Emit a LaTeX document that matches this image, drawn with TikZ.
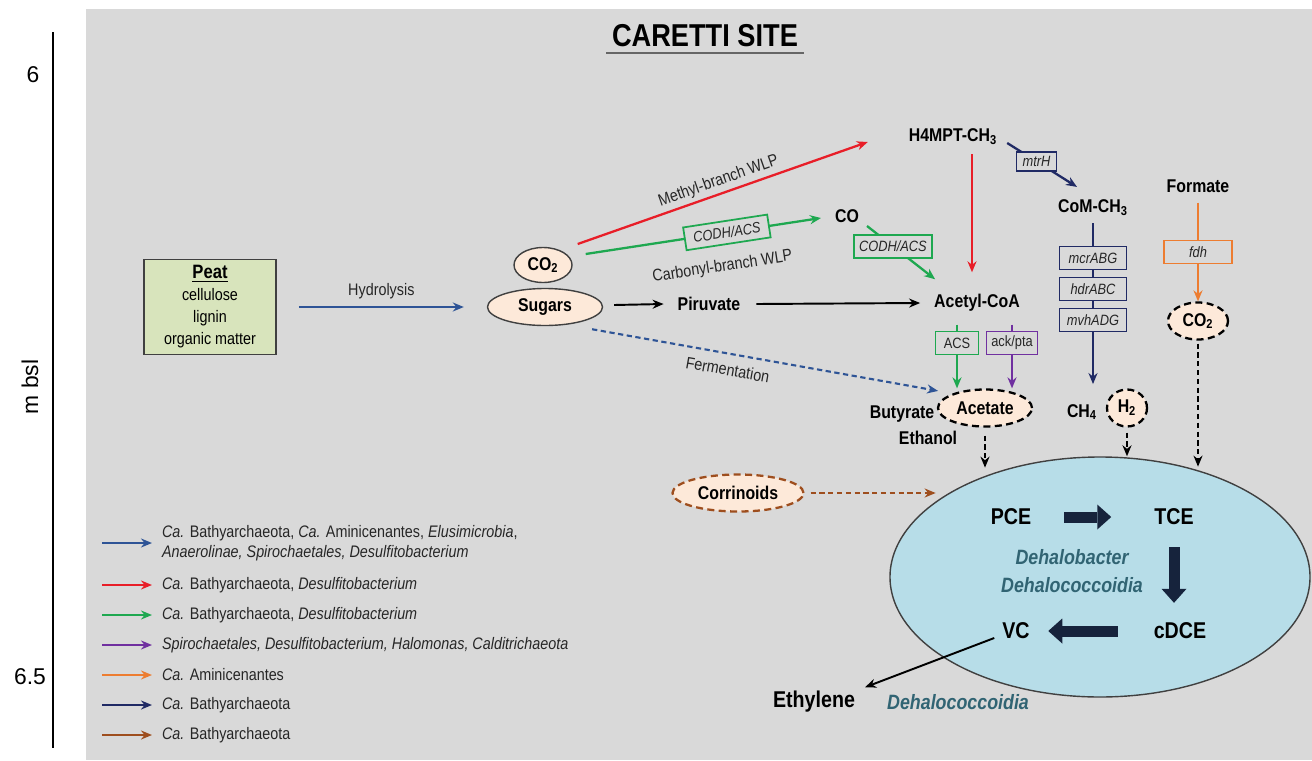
\documentclass[tikz,border=0pt]{standalone}
\usepackage{fontspec}
\setmainfont{Liberation Sans}[FakeStretch=0.86]
\newfontfamily\axisfont{Liberation Sans}
\usetikzlibrary{arrows.meta,shapes.geometric,calc}

\definecolor{panelgray}{RGB}{217,217,217}
\definecolor{peatgreen}{RGB}{216,228,188}
\definecolor{peach}{RGB}{253,233,217}
\definecolor{iceblue}{RGB}{183,221,232}
\definecolor{hydroblue}{RGB}{46,84,150}
\definecolor{wlpred}{RGB}{232,30,40}
\definecolor{wlpgreen}{RGB}{30,168,80}
\definecolor{ackpurple}{RGB}{112,48,160}
\definecolor{fdhorange}{RGB}{237,125,49}
\definecolor{mcrnavy}{RGB}{32,42,100}
\definecolor{corrbrown}{RGB}{158,78,30}
\definecolor{tealtext}{RGB}{49,100,115}
\definecolor{blockblue}{RGB}{22,35,60}
\definecolor{rimgray}{RGB}{64,64,64}
\definecolor{labelgray}{RGB}{38,38,38}

\begin{document}
\begin{tikzpicture}[x=0.2mm,y=-0.2mm,>={Stealth[length=2.2mm,width=1.8mm]},
  lbl/.style={font=\fontsize{10.5}{12}\selectfont\bfseries,inner sep=1pt},
  biglbl/.style={font=\fontsize{13}{15}\selectfont\bfseries,inner sep=1pt},
  pathlbl/.style={font=\fontsize{9.5}{11}\selectfont,text=labelgray,inner sep=2pt},
  enzbox/.style={draw=#1,line width=1pt,fill=panelgray,text=labelgray,font=\fontsize{8.5}{10}\selectfont\itshape,inner sep=1pt,minimum height=4.6mm},
  pool/.style={ellipse,draw=rimgray,line width=0.8pt,fill=peach,inner sep=0pt,minimum height=7.4mm,font=\fontsize{10.5}{12}\selectfont\bfseries},
  dashpool/.style={pool,draw=#1,line width=1.3pt,dash pattern=on 4pt off 2.5pt},
  legtxt/.style={anchor=west,align=left,font=\fontsize{9.5}{11.5}\selectfont,text=labelgray,inner sep=1pt},
  dashflow/.style={->,line width=1pt,dash pattern=on 3pt off 2pt},
  blockarrow/.style={draw=blockblue,line width=2.2mm,-{Triangle[length=2.8mm,width=5mm,line width=0pt]}},
  microbe/.style={font=\fontsize{11.8}{14}\selectfont\bfseries\itshape,text=tealtext,inner sep=1pt}]

\useasboundingbox (0,0) rectangle (1312,760);
\fill [panelgray] (86,9) rectangle (1312,760);

% depth axis
\draw [line width=1.2pt] (53,32) -- (53,748);
\node [font=\axisfont\fontsize{13}{15}\selectfont] (top) at (33,75) {6};
\node [font=\axisfont\fontsize{13}{15}\selectfont] (bottom) at (30,677) {6.5};
\node [font=\axisfont\fontsize{13}{15}\selectfont,rotate=90] (depth) at (30,387) {m bsl};

% title
\node [font=\fontsize{18}{20}\selectfont\bfseries,inner sep=2pt] (title) at (705,36) {CARETTI SITE};
\draw [rimgray!80,line width=1.6pt] ($(title.south west)+(-2,2)$) -- ($(title.south east)+(2,2)$);

% substrates
\node [draw=rimgray,line width=1pt,fill=peatgreen,minimum width=26.4mm,minimum height=19mm,align=center,
       font=\fontsize{9.5}{12.5}\selectfont] (peat) at (210,307)
      {{\fontsize{11}{12.5}\selectfont\bfseries\underline{Peat}}\\cellulose\\lignin\\organic matter};
\node [pool,minimum width=11.6mm,minimum height=7mm] (co2a) at (543,265) {CO\textsubscript{2}};
\node [pool,minimum width=23mm] (sugars) at (545,307) {Sugars};
\node [lbl] (piruvate) at (709,304) {Piruvate};
\node [lbl] (acetyl) at (977,303) {Acetyl-CoA};
\node [lbl] (h4mpt) at (953,137) {H4MPT-CH\textsubscript{3}};
\node [lbl] (co) at (847,216) {CO};
\node [lbl] (com) at (1093,208) {CoM-CH\textsubscript{3}};
\node [lbl] (formate) at (1198,186) {Formate};
\node [dashpool=black,minimum width=12mm] (co2b) at (1198,321) {CO\textsubscript{2}};
\node [dashpool=black,minimum width=18.8mm] (acetate) at (985,408) {Acetate};
\node [lbl] (butyrate) at (902,414) {Butyrate};
\node [lbl] (ethanol) at (928,438) {Ethanol};
\node [lbl] (ch4) at (1082,412) {CH\textsubscript{4}};
\node [dashpool=black,minimum width=8mm] (h2) at (1127,408) {H\textsubscript{2}};
\node [dashpool=corrbrown,minimum width=26.2mm] (corr) at (738,493) {Corrinoids};

% dechlorination
\node [ellipse,draw=rimgray,line width=0.8pt,fill=iceblue,minimum width=84mm,minimum height=48mm] (dechl) at (1100,577) {};
\node [biglbl] (pce) at (1011,517) {PCE};
\node [biglbl] (tce) at (1174,517) {TCE};
\node [biglbl] (cdce) at (1180,631) {cDCE};
\node [biglbl] (vc) at (1016,631) {VC};
\node [microbe] (dhb) at (1072,557) {Dehalobacter};
\node [microbe] (dhc) at (1072,585) {Dehalococcoidia};
\node [biglbl] (ethylene) at (814,702) {Ethylene};
\node [microbe] (dhcb) at (958,702) {Dehalococcoidia};
\draw [blockarrow] ($(pce.east)+(31,0)$) -- ($(tce.west)+(-41,0)$);
\draw [blockarrow] ($(tce.south)+(0,20)$) -- ($(cdce.north)+(-6,-18)$);
\draw [blockarrow] ($(cdce.west)+(-34,0)$) -- ($(vc.west)+(48,0)$);
\draw [->,line width=1.1pt] ($(vc.west)+(-6,7)$) -- ($(ethylene.north east)+(8,-2)$);

% flows
\draw [->,hydroblue,line width=1.2pt] ($(peat.east)+(22,0)$) -- node [pathlbl,above=2pt] {Hydrolysis} ($(sugars.west)+(-23,0)$);
\draw [->,line width=1.1pt] ($(sugars.east)+(11,-2)$) -- ($(piruvate.west)+(-12,0)$);
\draw [->,line width=1.1pt] ($(piruvate.east)+(14,0)$) -- ($(acetyl.west)+(-12,0)$);
\draw [->,wlpred,line width=1.3pt] ($(co2a.east)+(5,-21)$) -- node [pathlbl,sloped,above] {Methyl-branch WLP} ($(h4mpt.west)+(-39,5)$);
\draw [->,wlpgreen,line width=1.3pt] ($(co2a.east)+(13,-11)$) --
      node [pos=.6,sloped,enzbox=wlpgreen,minimum width=17mm] {CODH/ACS}
      node [pos=.56,sloped,pathlbl,below=4.2mm] {Carbonyl-branch WLP} ($(co.west)+(-12,2)$);
\draw [->,wlpgreen,line width=1.3pt] ($(co.east)+(6,10)$) --
      node [pos=.38,enzbox=wlpgreen,minimum width=15.6mm] {CODH/ACS} ($(acetyl.north west)+(3,-13)$);
\draw [->,wlpred,line width=1.3pt] ($(h4mpt.south)+(19,7)$) -- ($(acetyl.north)+(-5,-20)$);
\draw [->,mcrnavy,line width=1.3pt] ($(h4mpt.east)+(8,6)$) --
      node [pos=.42,enzbox=mcrnavy,minimum width=8mm,minimum height=3.8mm] {mtrH} ($(com.north)+(-16,-11)$);
\draw [->,mcrnavy,line width=1.3pt] ($(com.south)+(0,5)$) -- ($(com.south)+(0,166)$);
\node [enzbox=mcrnavy,minimum width=13.4mm] (mcr) at (1093,258) {mcrABG};
\node [enzbox=mcrnavy,minimum width=13.4mm] (hdr) at (1093,289) {hdrABC};
\node [enzbox=mcrnavy,minimum width=13.4mm] (mvh) at (1093,320) {mvhADG};
\draw [->,fdhorange,line width=1.3pt] ($(formate.south)+(0,8)$) --
      node [pos=.5,enzbox=fdhorange,minimum width=13.6mm] {fdh} (co2b.north);
\node [enzbox=wlpgreen,font=\fontsize{8.5}{10}\selectfont,minimum width=8.6mm] (acs) at (957,343) {ACS};
\node [enzbox=ackpurple,font=\fontsize{8.5}{10}\selectfont,minimum width=10.2mm] (ackpta) at (1012,343) {ack/pta};
\draw [wlpgreen,line width=1.3pt] ($(acs.north)+(0,-6)$) -- (acs.north);
\draw [->,wlpgreen,line width=1.3pt] (acs.south) -- (acs.south |- acetate.north);
\draw [ackpurple,line width=1.3pt] ($(ackpta.north)+(0,-6)$) -- (ackpta.north);
\draw [->,ackpurple,line width=1.3pt] (ackpta.south) -- (ackpta.south |- acetate.north);
\draw [dashflow,hydroblue,line width=1.2pt] ($(sugars.-20)+(8,8)$) --
      node [pos=.4,sloped,pathlbl,below=3pt] {Fermentation} ($(acetate.160)+(-11,-4)$);
\draw [dashflow] ($(acetate.south)+(0,8)$) -- ($(acetate.south)+(0,40)$);
\draw [dashflow] ($(h2.south)+(0,5)$) -- (h2.south |- dechl.north);
\draw [dashflow] ($(co2b.south)+(0,3)$) -- ($(co2b.south)+(0,126)$);
\draw [dashflow,corrbrown,line width=1.2pt] ($(corr.east)+(6,0)$) -- ($(corr.east)+(131,0)$);

% legend
\node [legtxt] (leg1) at (160,543) {\textit{Ca.} Bathyarchaeota, \textit{Ca.} Aminicenantes, \textit{Elusimicrobia},\\\textit{Anaerolinae, Spirochaetales, Desulfitobacterium}};
\node [legtxt] (leg2) at (160,585) {\textit{Ca.} Bathyarchaeota, \textit{Desulfitobacterium}};
\node [legtxt] (leg3) at (160,615) {\textit{Ca.} Bathyarchaeota, \textit{Desulfitobacterium}};
\node [legtxt] (leg4) at (160,645) {\textit{Spirochaetales, Desulfitobacterium, Halomonas, Calditrichaeota}};
\node [legtxt] (leg5) at (160,675) {\textit{Ca.} Aminicenantes};
\node [legtxt] (leg6) at (160,705) {\textit{Ca.} Bathyarchaeota};
\node [legtxt] (leg7) at (160,735) {\textit{Ca.} Bathyarchaeota};
\draw [->,hydroblue,line width=1.1pt] ($(leg1.west)+(-58,0)$) -- ($(leg1.west)+(-8,0)$);
\draw [->,wlpred,line width=1.1pt] ($(leg2.west)+(-58,0)$) -- ($(leg2.west)+(-8,0)$);
\draw [->,wlpgreen,line width=1.1pt] ($(leg3.west)+(-58,0)$) -- ($(leg3.west)+(-8,0)$);
\draw [->,ackpurple,line width=1.1pt] ($(leg4.west)+(-58,0)$) -- ($(leg4.west)+(-8,0)$);
\draw [->,fdhorange,line width=1.1pt] ($(leg5.west)+(-58,0)$) -- ($(leg5.west)+(-8,0)$);
\draw [->,mcrnavy,line width=1.1pt] ($(leg6.west)+(-58,0)$) -- ($(leg6.west)+(-8,0)$);
\draw [->,corrbrown,line width=1.1pt] ($(leg7.west)+(-58,0)$) -- ($(leg7.west)+(-8,0)$);
\end{tikzpicture}
\end{document}
